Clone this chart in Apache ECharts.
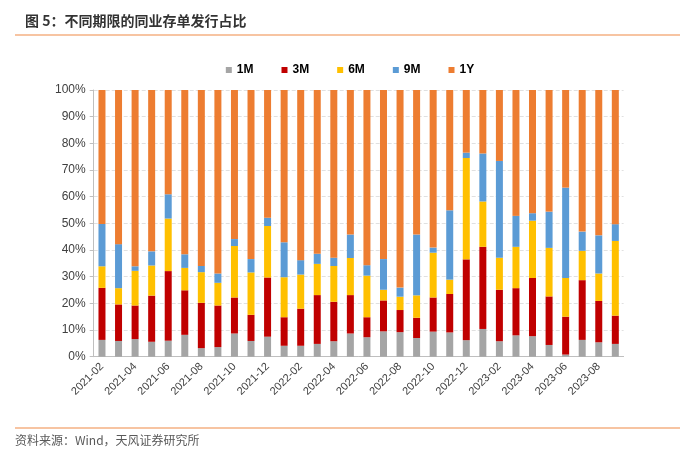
<!DOCTYPE html>
<html>
<head>
<meta charset="utf-8">
<script src="https://cdn.jsdelivr.net/npm/echarts@6/dist/echarts.min.js"></script>
<style>
html,body{margin:0;padding:0;background:#fff;}
#chart{width:700px;height:458px;}
</style>
</head>
<body>
<div id="chart"></div>
<script>
var categories = ['2021-02','2021-03','2021-04','2021-05','2021-06','2021-07','2021-08','2021-09','2021-10','2021-11','2021-12',
  '2022-01','2022-02','2022-03','2022-04','2022-05','2022-06','2022-07','2022-08','2022-09','2022-10','2022-11','2022-12',
  '2023-01','2023-02','2023-03','2023-04','2023-05','2023-06','2023-07','2023-08','2023-09'];
var s1M = [6.3,5.9,6.6,5.6,6.0,8.2,3.2,3.6,8.7,5.9,7.5,4.1,4.1,4.8,5.8,8.7,7.3,9.5,9.2,7.0,9.4,9.1,6.2,10.4,5.8,8.0,7.7,4.4,0.8,6.3,5.4,4.8];
var s3M = [19.5,13.7,12.6,17.3,26.1,16.7,17.0,15.6,13.5,9.8,22.2,10.7,13.9,18.3,14.8,14.4,7.5,11.6,8.3,7.6,12.8,14.4,30.3,30.8,19.3,17.7,21.8,18.2,14.2,22.4,15.5,10.6];
var s6M = [8.1,6.1,13.0,11.3,19.7,8.4,11.5,8.5,19.3,15.9,19.3,15.0,12.8,11.7,13.4,13.9,15.6,4.0,5.0,8.4,16.8,5.4,38.0,17.0,12.0,15.5,21.5,18.2,14.5,11.0,10.3,28.0];
var s9M = [15.9,16.5,1.7,5.3,9.1,5.1,2.3,3.5,2.6,5.0,3.1,13.1,5.4,3.8,3.1,8.8,3.9,11.5,3.4,22.8,1.9,26.0,2.0,18.0,36.3,11.6,2.8,13.6,33.9,7.2,14.3,6.3];
var s1Y = [50.2,57.8,66.1,60.5,39.1,61.6,66.0,68.8,55.9,63.4,47.9,57.1,63.8,61.4,62.9,54.2,65.7,63.4,74.1,54.2,59.1,45.1,23.5,23.8,26.6,47.2,46.2,45.6,36.6,53.1,54.5,50.3];
var seriesNames = ['1M','3M','6M','9M','1Y'];
var seriesColors = ['#A5A5A5','#C00000','#FFC000','#5B9BD5','#ED7D31'];
var seriesData = [s1M, s3M, s6M, s9M, s1Y];

var chart = echarts.init(document.getElementById('chart'));
var series = seriesNames.map(function(n, i){
  return {name:n, type:'bar', stack:'total', barWidth:7, data:seriesData[i],
    itemStyle:{color:seriesColors[i]}};
});
chart.setOption({
  animation:false,
  backgroundColor:'#fff',
  title:{text:'图 5：不同期限的同业存单发行占比', left:20, top:9,
    textStyle:{fontFamily:'Noto Sans CJK SC', fontSize:14, fontWeight:'bold', color:'#333'}},
  legend:{top:59, left:'center', itemWidth:6, itemHeight:6, itemGap:28, icon:'rect',
    textStyle:{fontFamily:'Liberation Sans', fontSize:12, fontWeight:'bold', color:'#000'},
    data:seriesNames},
  grid:{left:93.7, right:76.4, top:90, bottom:101.3},
  xAxis:{type:'category', data:categories, boundaryGap:true,
    axisLine:{lineStyle:{color:'#BFBFBF'}},
    axisTick:{interval:1, length:4, lineStyle:{color:'#BFBFBF'}},
    axisLabel:{interval:1, rotate:45, fontFamily:'Liberation Sans', fontSize:11, color:'#404040', margin:8}},
  yAxis:{type:'value', min:0, max:100, interval:10,
    axisLine:{show:true, lineStyle:{color:'#BFBFBF'}},
    axisTick:{show:true, length:4, lineStyle:{color:'#BFBFBF'}},
    axisLabel:{formatter:'{value}%', fontFamily:'Liberation Sans', fontSize:12, color:'#404040', margin:8},
    splitLine:{show:true, lineStyle:{color:'#E0E0E0', type:'dashed'}}},
  graphic:[
    {type:'line', shape:{x1:15, y1:35, x2:680, y2:35}, style:{stroke:'#F4B183', lineWidth:1.5}},
    {type:'line', shape:{x1:15, y1:428, x2:680, y2:428}, style:{stroke:'#F4B183', lineWidth:1.5}},
    {type:'text', left:15, top:434, style:{text:'资料来源：Wind，天风证券研究所', fill:'#595959',
      font:'12px "Noto Sans CJK SC"'}}
  ],
  series:series
});
</script>
</body>
</html>
